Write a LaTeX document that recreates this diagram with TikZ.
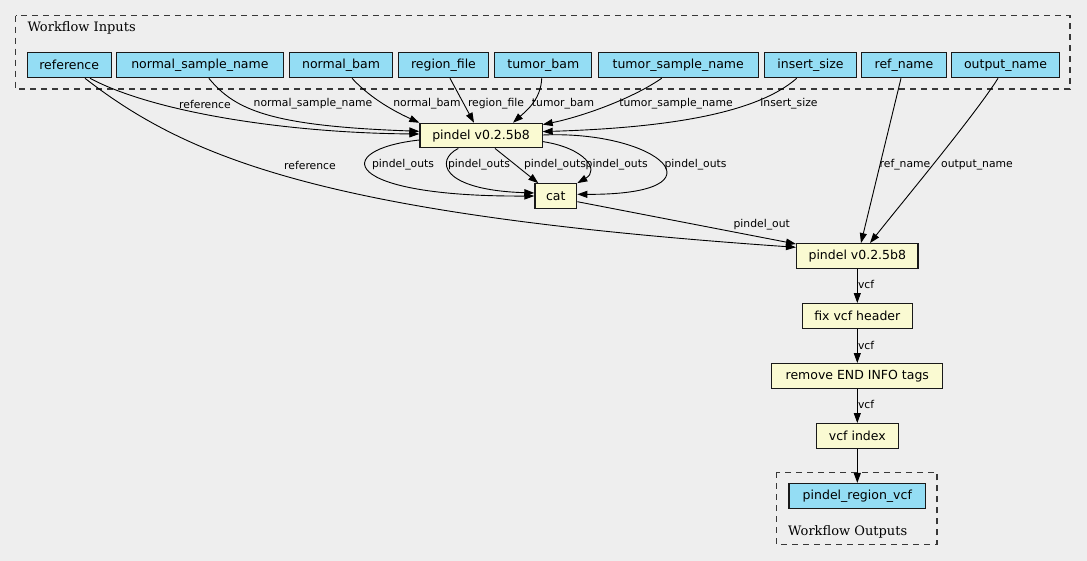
\documentclass[tikz,border=0pt]{standalone}
\usepackage{fontspec}
\setmainfont{DejaVu Sans}
\newfontfamily\clusterfont{DejaVu Serif}
\usepackage{tikz}
\usetikzlibrary{arrows.meta, positioning, calc}
\definecolor{bg}{HTML}{EEEEEE}
\definecolor{inblue}{HTML}{94DDF4}
\definecolor{toolyellow}{HTML}{FAFAD2}
\definecolor{clusterline}{HTML}{383838}

\begin{document}
\begin{tikzpicture}[x=1pt, y=-1pt, >={Triangle[length=10pt,width=7pt]},
    box/.style={rectangle, draw=black!90, line width=1.2pt, inner sep=0pt, font=\fontsize{12.5}{14}\selectfont},
    inp/.style={box, fill=inblue, minimum height=24.8pt},
    tool/.style={box, fill=toolyellow, minimum height=24.5pt},
    lbl/.style={inner sep=0pt, font=\fontsize{10.8}{12}\selectfont},
    cluster/.style={draw=clusterline, line width=1.2pt, dash pattern=on 6pt off 5pt},
    clabel/.style={anchor=base west, inner sep=0pt, font=\clusterfont\fontsize{13}{15}\selectfont},
    edge/.style={->, line width=0.9pt}]
    \fill[bg] (0,0) rectangle (1087,561);
    \useasboundingbox (0,0) rectangle (1087,561);
    % inputs
    \draw[cluster] (15.7,15.7) rectangle (1070,89);
    \node[clabel] (inlabel) at (27.3,31.7) {Workflow Inputs};
    \node[inp, minimum width=84pt] (ref) at (69.2,65.3) {reference};
    \node[inp, minimum width=166.7pt, right=4.1pt of ref] (nsn) {normal\_sample\_name};
    \node[inp, minimum width=103.6pt, right=4.8pt of nsn] (nbam) {normal\_bam};
    \node[inp, minimum width=89.4pt, right=4.8pt of nbam] (rfile) {region\_file};
    \node[inp, minimum width=97pt, right=5.4pt of rfile] (tbam) {tumor\_bam};
    \node[inp, minimum width=160pt, right=5.2pt of tbam] (tsn) {tumor\_sample\_name};
    \node[inp, minimum width=91.4pt, right=5.4pt of tsn] (isize) {insert\_size};
    \node[inp, minimum width=84.4pt, right=4.4pt of isize] (rname) {ref\_name};
    \node[inp, minimum width=108pt, right=4.1pt of rname] (oname) {output\_name};
    % steps
    \node[tool, minimum width=122.2pt] (pin) at (481,135.6) {pindel v0.2.5b8};
    \node[tool, minimum width=41.8pt] (cat) at (555.8,196) {cat};
    \node[tool, minimum width=121.5pt] (pout) at (857.3,255.9) {pindel v0.2.5b8};
    \node[tool, minimum width=109.8pt, below=34.3pt of pout] (fix) {fix vcf header};
    \node[tool, minimum width=171.1pt, below=34.3pt of fix] (rem) {remove END INFO tags};
    \node[tool, minimum width=81.8pt, below=34.3pt of rem] (idx) {vcf index};
    % outputs
    \node[inp, minimum width=136.5pt, below=34.2pt of idx] (vcf) {pindel\_region\_vcf};
    \draw[cluster] (776.7,472.3) rectangle (937,544.7);
    \node[clabel] (outlabel) at (788,535) {Workflow Outputs};
    % edges into first pindel
    \draw[edge] ($(ref.south)+(20.8,0)$) .. controls (155,113) and (290,133) .. ($(pin.west)+(0,-1.6)$);
    \draw[edge] ($(nsn.south)+(9,0)$) .. controls (235,110) and (270,126) .. ($(pin.west)+(0,-4.3)$);
    \draw[edge] ($(nbam.south)+(11,0)$) .. controls (372,100) and (398,113) .. (pin.north west);
    \draw[edge] ($(rfile.south)+(6.5,0)$) -- ($(pin.north)+(-7,0)$);
    \draw[edge] ($(tbam.south)+(-1.6,0)$) .. controls (541,100) and (525,112) .. ($(pin.north)+(32,0)$);
    \draw[edge] ($(tsn.south)+(-16.5,0)$) .. controls (630,100) and (580,117) .. ($(pin.east)+(0,-11)$);
    \draw[edge] ($(isize.south)+(-13.8,0)$) .. controls (755,115) and (660,128) .. ($(pin.east)+(0,-4)$);
    \node[lbl] (l1) at (205,104) {reference};
    \node[lbl] (l2) at (313,104) {normal\_sample\_name};
    \node[lbl] (l3) at (427,104) {normal\_bam};
    \node[lbl] (l4) at (496,104) {region\_file};
    \node[lbl] (l5) at (563,104) {tumor\_bam};
    \node[lbl] (l6) at (676,104) {tumor\_sample\_name};
    \node[lbl] (l7) at (789,104) {insert\_size};
    % pindel -> cat
    \draw[edge] ($(pin.west)+(0,4.4)$) .. controls (330,150) and (340,197) .. (cat.west);
    \draw[edge] ($(pin.south)+(-22.7,0)$) .. controls (435,160) and (440,190) .. ($(cat.west)+(0,-3)$);
    \draw[edge] ($(pin.south)+(14,0)$) -- ($(cat.north west)+(4,0)$);
    \draw[edge] ($(pin.east)+(0,6)$) .. controls (585,148) and (600,170) .. (cat.north east);
    \draw[edge] ($(pin.east)+(0,-0.6)$) .. controls (660,130) and (730,195) .. ($(cat.east)+(0,-1.7)$);
    \foreach \x in {403,479,555,616.7,695.5}
        \node[lbl] (outs\x) at (\x,164.3) {pindel\_outs};
    % edges into second pindel
    \draw[edge] ($(ref.south)+(15.8,0)$) .. controls (190,160) and (330,215) .. ($(pout.west)+(0,-8.6)$);
    \draw[edge] ($(cat.east)+(0,5.7)$) -- ($(pout.west)+(0,-11.9)$);
    \draw[edge] ($(rname.south)+(-3,0)$) -- ($(pout.north)+(3.7,0)$);
    \draw[edge] ($(oname.south)+(-7.5,0)$) .. controls (975,115) and (900,205) .. ($(pout.north)+(12.7,0)$);
    \node[lbl] (l8) at (310,165) {reference};
    \node[lbl] (l9) at (761.7,224.3) {pindel\_out};
    \node[lbl] (l10) at (905,165) {ref\_name};
    \node[lbl] (l11) at (977,165) {output\_name};
    % chain down
    \draw[edge] (pout) -- (fix);
    \draw[edge] (fix) -- (rem);
    \draw[edge] (rem) -- (idx);
    \draw[edge] (idx) -- (vcf);
    \node[lbl, anchor=west] (v1) at (857.8,284.7) {vcf};
    \node[lbl, anchor=west] (v2) at (857.8,345) {vcf};
    \node[lbl, anchor=west] (v3) at (857.8,404.3) {vcf};
\end{tikzpicture}
\end{document}
